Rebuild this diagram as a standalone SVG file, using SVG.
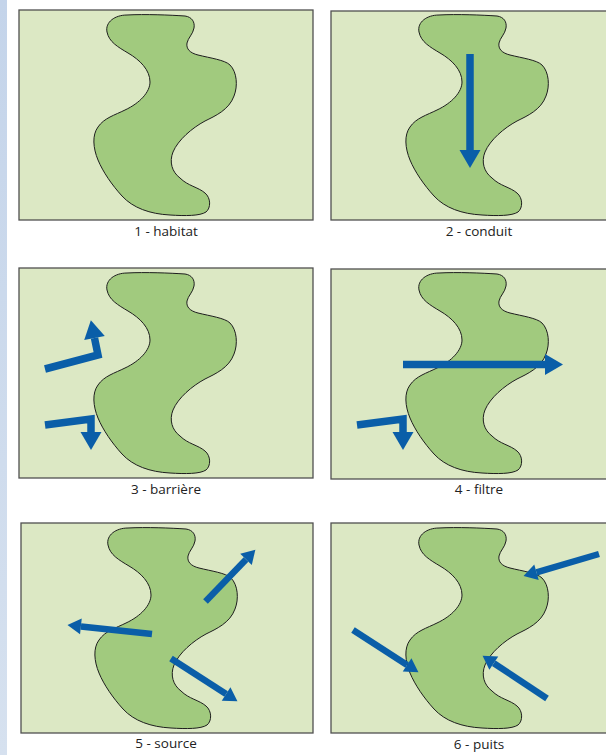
<svg xmlns="http://www.w3.org/2000/svg" xmlns:xlink="http://www.w3.org/1999/xlink" width="606" height="755" viewBox="0 0 606 755">
<style>
.panel{fill:#dce8c4;stroke:#505050;stroke-width:1.3}
.blob{fill:#a1ca7e;stroke:#1e1e1e;stroke-width:1}
.lbl{font-family:"Open Sans","Liberation Sans",sans-serif;font-size:13.5px;fill:#222;text-anchor:middle}
.arw{fill:none;stroke:#0a5ea8;stroke-linejoin:miter;stroke-linecap:butt}
.big{stroke-width:7.5;marker-end:url(#hb)}
.sml{stroke-width:6.5;marker-end:url(#hs)}
</style>
<defs>
<linearGradient id="strip" x1="0" y1="0" x2="0" y2="1">
<stop offset="0" stop-color="#c4d4ea"/>
<stop offset="1" stop-color="#d6e1ef"/>
</linearGradient>
<marker id="hb" markerUnits="userSpaceOnUse" markerWidth="20" markerHeight="24" viewBox="0 -12 20 24" refX="0" refY="0" orient="auto" overflow="visible">
<path d="M0,-10.5 L18,0 L0,10.5 Z" fill="#0a5ea8"/>
</marker>
<marker id="hs" markerUnits="userSpaceOnUse" markerWidth="16" markerHeight="18" viewBox="0 -9 16 18" refX="0" refY="0" orient="auto" overflow="visible">
<path d="M0,-8 L13.5,0 L0,8 Z" fill="#0a5ea8"/>
</marker>
<path id="blobshape" class="blob" d="M107,32 C105,22 115,15 127,15 C145,14 170,15 185,16 C192,17 195,22 194,28 C193,34 188,38 187,43 C186,49 190,53 198,55 C210,58 225,60 230,65 C237,72 238,86 234,96 C229,110 215,116 205,121 C192,128 178,140 173,152 C169,162 172,172 180,178 C188,186 198,187 205,193 C211,198 211,208 206,212 C200,216 185,216 170,215 C150,214 133,208 122,196 C112,185 103,172 98,160 C93,148 92,135 98,127 C104,118 115,115 125,110 C140,103 150,92 150,82 C150,70 140,60 128,53 C118,47 109,42 107,32 Z"/>
</defs>
<rect x="0" y="0" width="606" height="755" fill="#ffffff"/>
<rect x="0" y="0" width="7" height="755" fill="url(#strip)"/>

<g id="panel1">
<rect class="panel" x="19" y="10" width="294" height="210"/>
<use xlink:href="#blobshape"/>
<text class="lbl" x="166" y="236">1 - habitat</text>
</g>
<g id="panel2">
<rect class="panel" x="331" y="11" width="294" height="209"/>
<use xlink:href="#blobshape" transform="translate(312,0)"/>
<text class="lbl" x="479" y="236">2 - conduit</text>
</g>
<g id="panel3">
<rect class="panel" x="19" y="268" width="294" height="210"/>
<use xlink:href="#blobshape" transform="translate(0,258)"/>
<text class="lbl" x="166" y="494">3 - barrière</text>
</g>
<g id="panel4">
<rect class="panel" x="331" y="269" width="294" height="210"/>
<use xlink:href="#blobshape" transform="translate(312,258)"/>
<text class="lbl" x="479" y="494">4 - filtre</text>
</g>
<g id="panel5">
<rect class="panel" x="21" y="523" width="292" height="210"/>
<use xlink:href="#blobshape" transform="translate(1,513)"/>
<text class="lbl" x="166" y="748">5 - source</text>
</g>
<g id="panel6">
<rect class="panel" x="331" y="523" width="294" height="210"/>
<use xlink:href="#blobshape" transform="translate(312,513)"/>
<text class="lbl" x="479" y="749">6 - puits</text>
</g>

<g id="connectors">
<path class="arw big" d="M470,54 L470,150"/>
<path class="arw big" d="M45,369 L98,355 L94.5,338"/>
<path class="arw big" d="M45,425 L91,419 L91,432"/>
<path class="arw big" d="M403,364.5 L545,364.5"/>
<path class="arw big" d="M357,425 L403,419 L403,432"/>
<path class="arw sml" d="M205.5,601.5 L246,559.4"/>
<path class="arw sml" d="M152,634 L80.9,626.4"/>
<path class="arw sml" d="M171,658.5 L226.1,694"/>
<path class="arw sml" d="M599,554 L536.5,572.3"/>
<path class="arw sml" d="M353,630 L407.1,664.9"/>
<path class="arw sml" d="M547,698.5 L493.8,663.2"/>
</g>
</svg>
